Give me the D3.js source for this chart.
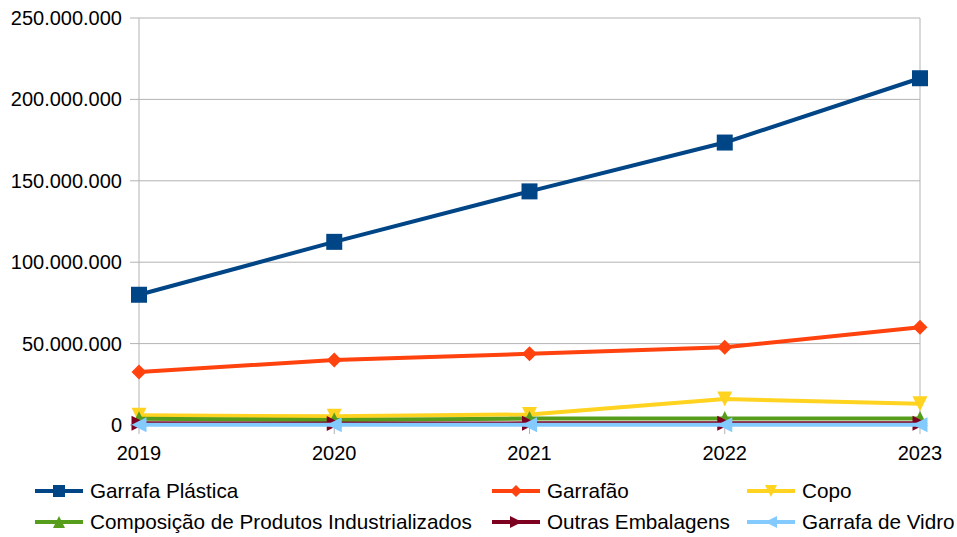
<!DOCTYPE html>
<html>
<head>
<meta charset="utf-8">
<script src="https://cdn.jsdelivr.net/npm/d3@7"></script>
<style>
  body { margin: 0; background: #fff; }
  text { font-family: "Liberation Sans", Arial, sans-serif; fill: #000; }
</style>
</head>
<body>
<div id="chart"></div>
<script>
// data
var years = ["2019", "2020", "2021", "2022", "2023"];
var seriesNames = ["Garrafa Plástica", "Garrafão", "Copo",
    "Composição de Produtos Industrializados", "Outras Embalagens", "Garrafa de Vidro"];
var garrafaPlastica = [80000000, 112500000, 143500000, 173500000, 213000000];
var garrafao = [32500000, 40000000, 43700000, 47700000, 60000000];
var copo = [6000000, 5300000, 6500000, 16000000, 13000000];
var composicao = [3800000, 3000000, 4000000, 4000000, 4000000];
var outras = [1000000, 900000, 1000000, 1000000, 1000000];
var vidro = [200000, 200000, 200000, 200000, 200000];
var yTicks = [0, 50000000, 100000000, 150000000, 200000000, 250000000];

var allValues = [garrafaPlastica, garrafao, copo, composicao, outras, vidro];
var colors = ["#004586", "#ff420e", "#ffd320", "#579d1c", "#7e0021", "#83caff"];
var symbols = ["square", "diamond", "down", "up", "right", "left"];

var W = 957, H = 537;
var margin = {top: 18, right: 37, bottom: 112, left: 139},
    width = W - margin.left - margin.right,
    height = H - margin.top - margin.bottom;

var svg = d3.select("#chart")
    .append("svg")
    .attr("width", W)
    .attr("height", H);

var g = svg.append("g")
    .attr("transform", "translate(" + margin.left + "," + margin.top + ")");

var x = d3.scalePoint()
    .domain(years)
    .range([0, width]);

var y = d3.scaleLinear()
    .domain([0, 250000000])
    .range([height, 0]);

var fmt = function(v) { return d3.format(",")(v).replace(/,/g, "."); };

// horizontal grid
g.append("g")
    .selectAll("line")
    .data(yTicks)
    .enter().append("line")
    .attr("x1", -9)
    .attr("x2", width)
    .attr("y1", function(d) { return y(d); })
    .attr("y2", function(d) { return y(d); })
    .style("stroke", "#b3b3b3")
    .style("stroke-width", 1);

// frame sides
g.append("line").attr("x1", 0).attr("x2", 0).attr("y1", 0).attr("y2", height + 9)
    .style("stroke", "#b3b3b3");
g.append("line").attr("x1", width).attr("x2", width).attr("y1", 0).attr("y2", height + 9)
    .style("stroke", "#b3b3b3");
x.domain().slice(1, -1).forEach(function(d) {
    g.append("line").attr("x1", x(d)).attr("x2", x(d)).attr("y1", height).attr("y2", height + 9)
        .style("stroke", "#b3b3b3");
});

// y labels
g.append("g")
    .selectAll("text")
    .data(yTicks)
    .enter().append("text")
    .attr("x", -17)
    .attr("y", function(d) { return y(d); })
    .attr("dy", "0.35em")
    .attr("text-anchor", "end")
    .style("font-size", "20px")
    .text(fmt);

// x labels
g.append("g")
    .selectAll("text")
    .data(years)
    .enter().append("text")
    .attr("x", function(d) { return x(d); })
    .attr("y", height + 35)
    .attr("text-anchor", "middle")
    .style("font-size", "20px")
    .text(String);

function markerPath(type, s) {
    if (type == "square") return "M" + (-s) + "," + (-s) + "h" + (2 * s) + "v" + (2 * s) + "h" + (-2 * s) + "Z";
    if (type == "diamond") return "M0," + (-s) + "L" + s + ",0L0," + s + "L" + (-s) + ",0Z";
    if (type == "down") return "M" + (-s) + "," + (-s) + "L" + s + "," + (-s) + "L0," + s + "Z";
    if (type == "up") return "M" + (-s) + "," + s + "L" + s + "," + s + "L0," + (-s) + "Z";
    if (type == "right") return "M" + (-s) + "," + (-s) + "L" + s + ",0L" + (-s) + "," + s + "Z";
    return "M" + s + "," + (-s) + "L" + (-s) + ",0L" + s + "," + s + "Z";
}
var markerSize = [8, 7.5, 7.5, 7.5, 7.5, 7.5];

var line = d3.line()
    .x(function(d, i) { return x(years[i]); })
    .y(function(d) { return y(d); });

allValues.forEach(function(vals, k) {
    var sg = g.append("g");
    sg.append("path")
        .datum(vals)
        .attr("d", line)
        .style("fill", "none")
        .style("stroke", colors[k])
        .style("stroke-width", 4)
        .style("stroke-linejoin", "round");
    sg.selectAll("path.mk")
        .data(vals)
        .enter().append("path")
        .attr("class", "mk")
        .attr("transform", function(d, i) { return "translate(" + x(years[i]) + "," + y(d) + ")"; })
        .attr("d", markerPath(symbols[k], markerSize[k]))
        .style("fill", colors[k]);
});

// legend
var legX = [35, 492, 747];
var legY = [491, 522];
var legend = svg.selectAll(".legend")
    .data(seriesNames)
    .enter().append("g")
    .attr("class", "legend")
    .attr("transform", function(d, i) {
        return "translate(" + legX[i % 3] + "," + legY[Math.floor(i / 3)] + ")";
    });

legend.append("line")
    .attr("x1", 0)
    .attr("x2", 48)
    .style("stroke", function(d, i) { return colors[i]; })
    .style("stroke-width", 4);

legend.append("path")
    .attr("transform", "translate(24,0)")
    .attr("d", function(d, i) { return markerPath(symbols[i], 6); })
    .style("fill", function(d, i) { return colors[i]; });

legend.append("text")
    .attr("x", 55)
    .attr("dy", "0.35em")
    .style("font-size", "20.7px")
    .text(String);
</script>
</body>
</html>
